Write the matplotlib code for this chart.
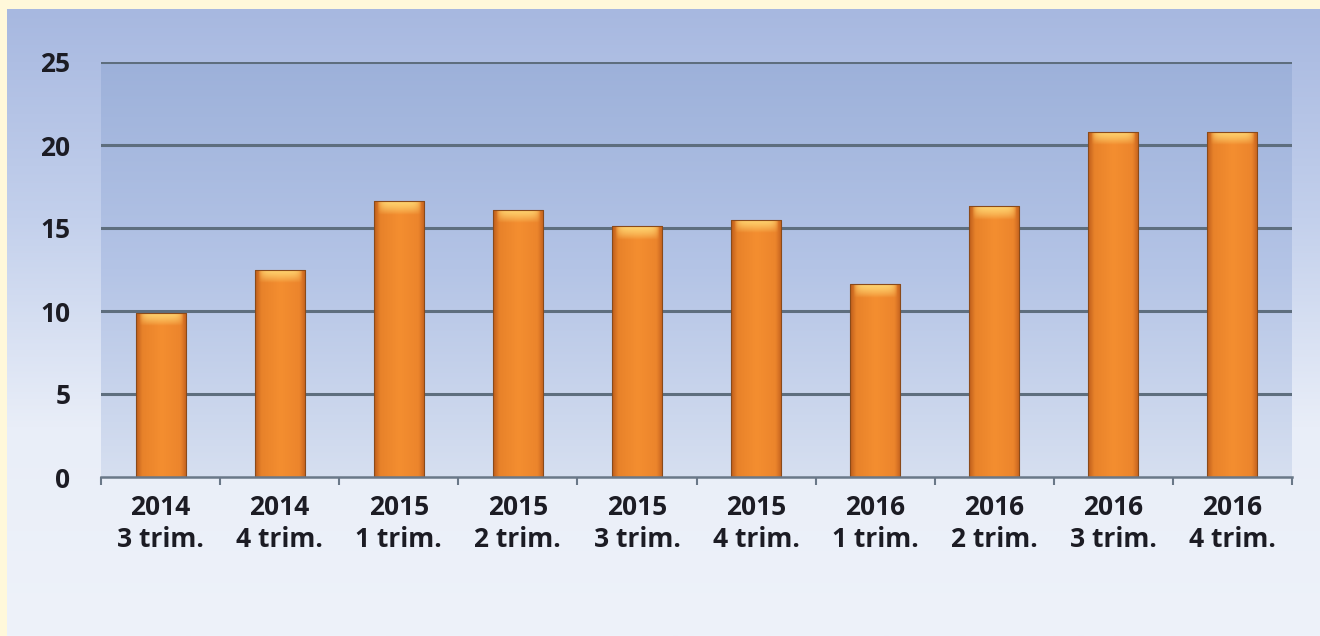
import numpy as np
import matplotlib
matplotlib.use("Agg")
import matplotlib.pyplot as plt
from matplotlib.colors import LinearSegmentedColormap

years = ["2014", "2014", "2015", "2015", "2015", "2015", "2016", "2016", "2016", "2016"]
quarters = ["3 trim.", "4 trim.", "1 trim.", "2 trim.", "3 trim.", "4 trim.",
            "1 trim.", "2 trim.", "3 trim.", "4 trim."]
values = [9.9, 12.5, 16.6, 16.1, 15.1, 15.5, 11.6, 16.3, 20.8, 20.8]
yticks = [0, 5, 10, 15, 20, 25]

labels = [y + "\n" + q for y, q in zip(years, quarters)]

plt.rcParams["font.family"] = ["Open Sans", "DejaVu Sans"]

fig = plt.figure(figsize=(13.2, 6.36), dpi=100)
fig.patch.set_facecolor("#FFF8DA")

# panel background with vertical gradient
bg = fig.add_axes([7 / 1320, 0, 1 - 7 / 1320, 1 - 9 / 636])
bg_cmap = LinearSegmentedColormap.from_list("bg", ["#A7B8E0", "#C3D0EC", "#E9EEF8", "#EEF2FA"])
bg.imshow(np.linspace(0, 1, 256).reshape(-1, 1), aspect="auto", cmap=bg_cmap,
          extent=[0, 1, 0, 1], origin="upper")
bg.set_axis_off()

ax = fig.add_axes([101 / 1320, 1 - 477 / 636, (1292 - 101) / 1320, (477 - 62) / 636])
ax.set_zorder(2)
ax.patch.set_alpha(0)

x = np.arange(len(values))
ax.set_xlim(-0.5, len(values) - 0.5)
ax.set_ylim(0, 25)

# plot area gradient
pa_cmap = LinearSegmentedColormap.from_list("pa", ["#9DB1DA", "#B4C4E6", "#D6DFF0"])
ax.imshow(np.linspace(0, 1, 256).reshape(-1, 1), aspect="auto", cmap=pa_cmap,
          extent=[-0.5, len(values) - 0.5, 0, 25], origin="upper", zorder=0)

for t in yticks[1:]:
    ax.axhline(t, color="#5E6E7E", lw=2.2, zorder=1)

bars = ax.bar(x, values, width=0.42, color="none", edgecolor="#8A4A1A", lw=0.8, zorder=3)

# bar fill: horizontal shading, darker narrow edges
bar_cmap = LinearSegmentedColormap.from_list(
    "bar", [(0, "#BF5E1C"), (0.12, "#E8822A"), (0.5, "#F48E30"), (0.88, "#EC852C"), (1, "#C4621E")])
grad = np.linspace(0, 1, 64).reshape(1, -1)

# top highlight: yellow, fading downwards and towards the sides
hx = np.linspace(-1, 1, 64)
hy = np.linspace(0, 1, 32)
side = np.clip(1 - (np.abs(hx) / 0.88) ** 6, 0, 1)
depth = np.clip(1 - hy ** 1.5, 0, 1)
cap_rgba = np.zeros((32, 64, 4))
cap_rgba[..., 0] = 1.0
cap_rgba[..., 1] = 0.84
cap_rgba[..., 2] = 0.45
cap_rgba[..., 3] = np.outer(depth, side) * 0.95

for b in bars:
    x0, w, h = b.get_x(), b.get_width(), b.get_height()
    im = ax.imshow(grad, aspect="auto", cmap=bar_cmap, extent=[x0, x0 + w, 0, h], zorder=2.5)
    im.set_clip_path(b)
    cap = ax.imshow(cap_rgba, aspect="auto", extent=[x0, x0 + w, h - 0.8, h], zorder=2.6)
    cap.set_clip_path(b)

ax.set_xlim(-0.5, len(values) - 0.5)
ax.set_ylim(0, 25)

for s in ["top", "right", "left"]:
    ax.spines[s].set_visible(False)
ax.spines["bottom"].set_color("#6A7888")
ax.spines["bottom"].set_linewidth(1.8)
ax.spines["bottom"].set_zorder(4)

ax.set_yticks(yticks)
ax.set_yticklabels([str(t) for t in yticks])
ax.tick_params(axis="y", length=0, pad=22, labelsize=19, labelcolor="#1C1C24")

ax.set_xticks(x)
ax.set_xticklabels(labels, fontweight="bold", linespacing=1.25)
ax.set_xticks(np.arange(-0.5, len(values)), minor=True)
ax.tick_params(axis="x", which="major", length=0, pad=12, labelsize=19, labelcolor="#1C1C24")
ax.tick_params(axis="x", which="minor", length=6, width=1.5, color="#6A7888")
for lbl in ax.get_yticklabels():
    lbl.set_fontweight("bold")

fig.savefig("out.png", dpi=100, facecolor=fig.get_facecolor())
